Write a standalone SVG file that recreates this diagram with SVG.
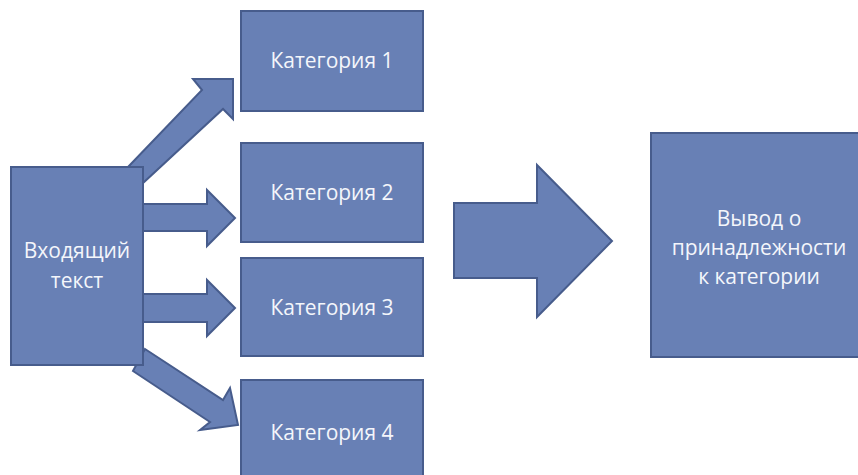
<svg xmlns="http://www.w3.org/2000/svg" width="858" height="475" viewBox="0 0 858 475">
<style>
.s{fill:#6880b5;stroke:#475c8c;stroke-width:2;stroke-linejoin:miter}
.t{fill:#f4f6fb;font-family:"Open Sans","Noto Sans","Liberation Sans",sans-serif;font-size:21px;text-anchor:middle}
</style>
<rect width="858" height="475" fill="#ffffff"/>
<g id="connectors">
<polygon class="s" points="128,167 202,90 193,79 233,79 233,119 223,109 143,183"/>
<polygon class="s" points="143,204 207,204 207,190 235,218 207,246 207,231 143,231"/>
<polygon class="s" points="143,294 207,294 207,280 235,308 207,336 207,322 143,322"/>
<polygon class="s" points="145,349 223,400 230,388 238,425 200,430 210,422 133,371"/>
<polygon class="s" points="454,203 537,203 537,165 612,241 537,317 537,278 454,278"/>
</g>
<g id="input">
<rect class="s" x="11" y="167" width="132" height="198"/>
<text class="t" x="77" y="258">Входящий</text>
<text class="t" x="77" y="288">текст</text>
</g>
<g id="cat1">
<rect class="s" x="241" y="11" width="182" height="100"/>
<text class="t" x="332" y="68">Категория 1</text>
</g>
<g id="cat2">
<rect class="s" x="241" y="143" width="182" height="99"/>
<text class="t" x="332" y="200">Категория 2</text>
</g>
<g id="cat3">
<rect class="s" x="241" y="258" width="182" height="98"/>
<text class="t" x="332" y="315">Категория 3</text>
</g>
<g id="cat4">
<rect class="s" x="241" y="380" width="182" height="106"/>
<text class="t" x="332" y="440">Категория 4</text>
</g>
<g id="output">
<rect class="s" x="651" y="133" width="210" height="224"/>
<text class="t" x="759" y="226">Вывод о</text>
<text class="t" x="759" y="255">принадлежности</text>
<text class="t" x="759" y="284">к категории</text>
</g>
</svg>
